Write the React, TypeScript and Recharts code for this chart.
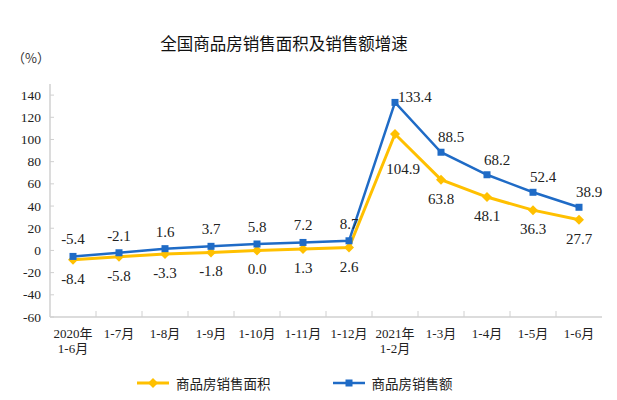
import React from 'react';
import { LineChart, Line, XAxis, YAxis, Legend, ReferenceArea } from 'recharts';

const categories = ['2020年\n1-6月', '1-7月', '1-8月', '1-9月', '1-10月', '1-11月', '1-12月', '2021年\n1-2月', '1-3月', '1-4月', '1-5月', '1-6月'];
const areaGrowth = [-8.4, -5.8, -3.3, -1.8, 0.0, 1.3, 2.6, 104.9, 63.8, 48.1, 36.3, 27.7];
const amountGrowth = [-5.4, -2.1, 1.6, 3.7, 5.8, 7.2, 8.7, 133.4, 88.5, 68.2, 52.4, 38.9];
const yTicks = [-60, -40, -20, 0, 20, 40, 60, 80, 100, 120, 140];
const seriesNames = { area: '商品房销售面积', amount: '商品房销售额' };
const title = '全国商品房销售面积及销售额增速';
const unit = '（%）';

const data = categories.map((c, i) => ({ cat: c, area: areaGrowth[i], amount: amountGrowth[i] }));

const YELLOW = '#FFC000';
const BLUE = '#1F6BC6';
const GRID = '#d0d0d0';
const SERIF = '"Liberation Serif", "Times New Roman", "Noto Sans CJK SC", serif';
const CJK = '"Noto Sans CJK SC", sans-serif';

const peakIdx = amountGrowth.indexOf(Math.max(...amountGrowth));

const XTick = (props: any) => {
  const { x, y, payload, index } = props;
  const lines = String(payload.value).split('\n');
  const off = payload.offset || 0;
  return (
    <g>
      {index > 0 && <line x1={x - off} x2={x - off} y1={y} y2={y - 6} stroke={GRID} strokeWidth={1} />}
      {lines.map((l, i) => (
        <text key={i} x={x} y={y + 21 + i * 15} textAnchor="middle" fontSize={13} fontFamily={SERIF} fill="#222">
          {l}
        </text>
      ))}
    </g>
  );
};

const YTick = (props: any) => {
  const { x, y, payload } = props;
  return (
    <g>
      <line x1={x} x2={x + 4} y1={y} y2={y} stroke={GRID} strokeWidth={1} />
      <text x={x - 9} y={y + 4.5} textAnchor="end" fontSize={13.5} fontFamily={SERIF} fill="#222">
        {payload.value}
      </text>
    </g>
  );
};

const amountLabel = (p: any) => {
  const { x, y, value, index } = p;
  let dx = 0, dy = -12, anchor = 'middle';
  if (index === peakIdx) { dx = 3; dy = 0; anchor = 'start'; }
  else if (index > peakIdx) { dx = 10; dy = -10; }
  return (
    <text key={`a${index}`} x={x + dx} y={y + dy} textAnchor={anchor} fontSize={15} fontFamily={SERIF} fill="#222">
      {Number(value).toFixed(1)}
    </text>
  );
};

const areaLabel = (p: any) => {
  const { x, y, value, index } = p;
  let dx = 0, dy = 24;
  if (index === peakIdx) { dx = 8; dy = 40; }
  return (
    <text key={`b${index}`} x={x + dx} y={y + dy} textAnchor="middle" fontSize={15} fontFamily={SERIF} fill="#222">
      {Number(value).toFixed(1)}
    </text>
  );
};

const squareDot = (p: any) => {
  const { cx, cy, index } = p;
  return <rect key={`s${index}`} x={cx - 3.5} y={cy - 3.5} width={7} height={7} fill={BLUE} />;
};

const diamondDot = (p: any) => {
  const { cx, cy, index } = p;
  return (
    <polygon key={`d${index}`} points={`${cx},${cy - 5} ${cx + 5},${cy} ${cx},${cy + 5} ${cx - 5},${cy}`} fill={YELLOW} />
  );
};

const LegendContent = () => (
  <div style={{ display: 'flex', alignItems: 'center', fontFamily: CJK, fontSize: 13.5, color: '#222', height: 20 }}>
    <svg width={34} height={12} style={{ marginRight: 5 }}>
      <line x1={0} x2={32} y1={6} y2={6} stroke={YELLOW} strokeWidth={3} />
      <polygon points="16,1 21,6 16,11 11,6" fill={YELLOW} />
    </svg>
    <span>{seriesNames.area}</span>
    <svg width={34} height={12} style={{ marginLeft: 62, marginRight: 5 }}>
      <line x1={0} x2={32} y1={6} y2={6} stroke={BLUE} strokeWidth={2.5} />
      <rect x={12.5} y={2.5} width={7} height={7} fill={BLUE} />
    </svg>
    <span>{seriesNames.amount}</span>
  </div>
);

export default function App() {
  return (
    <div style={{ position: 'absolute', left: 0, top: 0, width: 617, height: 400, background: '#fff' }}>
      <div style={{ position: 'absolute', left: 0, width: 568, top: 31, textAlign: 'center', fontFamily: CJK, fontSize: 16.5, color: '#111', lineHeight: '24px' }}>
        {title}
      </div>
      <div style={{ position: 'absolute', left: 12, top: 49, fontFamily: CJK, fontSize: 13, color: '#333', lineHeight: '18px' }}>
        {unit}
      </div>
      <LineChart width={617} height={400} data={data} margin={{ top: 84, right: 15, bottom: 7, left: 10 }}>
        <ReferenceArea fill="none" stroke={GRID} strokeWidth={1.5} ifOverflow="visible" />
        <XAxis dataKey="cat" scale="band" interval={0} height={56} tickSize={0} tickMargin={0} tickLine={false}
          axisLine={{ stroke: GRID, strokeWidth: 1.5 }} tick={XTick} />
        <YAxis domain={[-60, 150]} ticks={yTicks} interval={0} width={40} tickSize={0} tickMargin={0} tickLine={false}
          axisLine={{ stroke: GRID, strokeWidth: 1.5 }} tick={YTick} />
        <Legend verticalAlign="bottom" height={20} content={LegendContent} wrapperStyle={{ left: 137, bottom: 7, width: 400 }} />
        <Line dataKey="area" name={seriesNames.area} stroke={YELLOW} strokeWidth={3} dot={diamondDot}
          label={areaLabel} isAnimationActive={false} />
        <Line dataKey="amount" name={seriesNames.amount} stroke={BLUE} strokeWidth={2.5} dot={squareDot}
          label={amountLabel} isAnimationActive={false} />
      </LineChart>
    </div>
  );
}
